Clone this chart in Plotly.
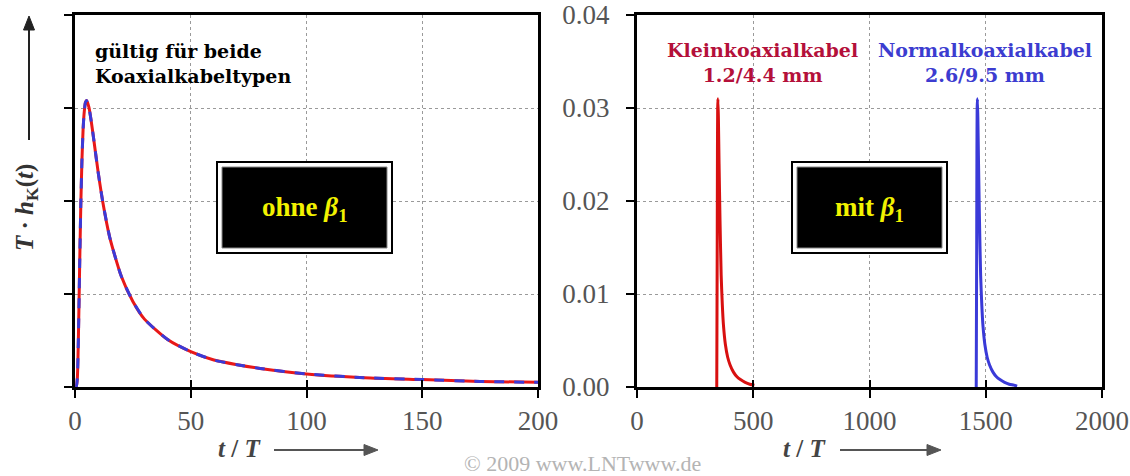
import plotly.graph_objects as go

W, H = 1130, 476

# ---------------- data ----------------
t_left = [0, 0.5, 1, 1.5, 2, 2.5, 3, 3.5, 4, 4.5, 5, 6, 7, 8, 10, 12, 15, 20, 25,
          30, 40, 50, 60, 70, 80, 100, 125, 150, 175, 200]
h_left = [0, 0.0000, 0.0009, 0.0057, 0.0129, 0.0195, 0.0244, 0.0277, 0.0296, 0.0306,
          0.0308, 0.0301, 0.0286, 0.0268, 0.0231, 0.0199, 0.0161, 0.0119, 0.0092,
          0.0073, 0.0051, 0.0038, 0.0029, 0.0024, 0.0020, 0.0014, 0.0010, 0.0008,
          0.0006, 0.0005]

t_klein = [343, 345, 346, 347, 348, 350, 353, 357, 362, 367, 372, 380, 390, 400,
           415, 430, 445, 465, 485, 505]
h_klein = [0, 0.015, 0.025, 0.030, 0.031, 0.029, 0.024, 0.018, 0.012, 0.0088, 0.0066,
           0.0046, 0.0032, 0.0024, 0.0016, 0.0011, 0.0008, 0.0005, 0.0003, 0.0002]

t_normal = [1459, 1461, 1462, 1463, 1464, 1466, 1469, 1473, 1478, 1483, 1488, 1496,
            1506, 1516, 1531, 1546, 1561, 1581, 1601, 1621, 1635]
h_normal = [0, 0.015, 0.025, 0.030, 0.031, 0.029, 0.024, 0.018, 0.012, 0.0088, 0.0066,
            0.0046, 0.0032, 0.0024, 0.0016, 0.0011, 0.0008, 0.0005, 0.0003, 0.0002,
            0.0001]

xticks_left = [0, 50, 100, 150, 200]
xticks_right = [0, 500, 1000, 1500, 2000]
yticks = [0, 0.01, 0.02, 0.03, 0.04]

# ---------------- helpers ----------------
def px(x):
    return x / W

def py(y):
    return 1 - y / H

SERIF = "Liberation Serif"
WIDE = "DejaVu Serif"
TICKC = "#555555"

L0, L1 = 75, 538
R0, R1 = 637, 1102
T0, B0 = 15, 387

fig = go.Figure()

# left panel: red solid under blue dashed
fig.add_trace(go.Scatter(x=t_left, y=h_left, mode="lines",
                         line=dict(color="#e81818", width=3, shape="spline", smoothing=0.6),
                         xaxis="x", yaxis="y", showlegend=False, hoverinfo="skip"))
fig.add_trace(go.Scatter(x=t_left, y=h_left, mode="lines",
                         line=dict(color="#3a3ad8", width=3, dash="10px,10px",
                                   shape="spline", smoothing=0.6),
                         xaxis="x", yaxis="y", showlegend=False, hoverinfo="skip"))
# right panel
fig.add_trace(go.Scatter(x=t_klein, y=h_klein, mode="lines",
                         line=dict(color="#d81010", width=3, shape="spline", smoothing=0.6),
                         xaxis="x2", yaxis="y2", showlegend=False, hoverinfo="skip"))
fig.add_trace(go.Scatter(x=t_normal, y=h_normal, mode="lines",
                         line=dict(color="#3a3ad8", width=3, shape="spline", smoothing=0.6),
                         xaxis="x2", yaxis="y2", showlegend=False, hoverinfo="skip"))
# dummy traces for inner-tick overlay axes
fig.add_trace(go.Scatter(x=[None], y=[None], xaxis="x3", yaxis="y", showlegend=False))
fig.add_trace(go.Scatter(x=[None], y=[None], xaxis="x4", yaxis="y2", showlegend=False))

common_x = dict(showline=True, linecolor="black", linewidth=3, mirror=True,
                ticks="outside", ticklen=8, tickwidth=2, tickcolor="black",
                showgrid=True, gridcolor="#9a9a9a", griddash="dot", gridwidth=1,
                zeroline=False, tickfont=dict(family=SERIF, size=27, color=TICKC),
                fixedrange=True, automargin=False)
common_y = dict(showline=True, linecolor="black", linewidth=3, mirror=True,
                ticks="outside", ticklen=8, tickwidth=2, tickcolor="black",
                showgrid=True, gridcolor="#9a9a9a", griddash="dot", gridwidth=1,
                zeroline=False, range=[0, 0.04], tickvals=yticks, tickformat=".2f",
                domain=[py(B0), py(T0)], automargin=False,
                tickfont=dict(family=SERIF, size=27, color=TICKC), fixedrange=True)

inner_tick = dict(ticks="inside", ticklen=7, tickwidth=2, tickcolor="black",
                  showline=False, showgrid=False, showticklabels=False, zeroline=False,
                  fixedrange=True, automargin=False)

fig.update_layout(
    width=W, height=H, margin=dict(l=0, r=0, t=0, b=0, autoexpand=False),
    paper_bgcolor="white", plot_bgcolor="white",
    xaxis=dict(common_x, domain=[px(L0), px(L1)], range=[0, 200], tickvals=xticks_left,
               anchor="y"),
    yaxis=dict(common_y, anchor="x", showticklabels=False),
    xaxis2=dict(common_x, domain=[px(R0), px(R1)], range=[0, 2000], tickvals=xticks_right,
                anchor="y2"),
    yaxis2=dict(common_y, anchor="x2", showticklabels=True, ticklabelstandoff=11),
    xaxis3=dict(inner_tick, overlaying="x", anchor="y", range=[0, 200], tickvals=xticks_left),
    xaxis4=dict(inner_tick, overlaying="x2", anchor="y2", range=[0, 2000], tickvals=xticks_right),
)

shapes = []
# boxes
for (x0, x1) in [(217, 392), (792, 947)]:
    shapes.append(dict(type="rect", xref="paper", yref="paper",
                       x0=px(x0), x1=px(x1), y0=py(253), y1=py(162),
                       line=dict(color="black", width=2), fillcolor="white"))
    shapes.append(dict(type="rect", xref="paper", yref="paper",
                       x0=px(x0 + 5), x1=px(x1 - 5), y0=py(248), y1=py(167),
                       line=dict(color="#888888", width=1), fillcolor="black"))

# arrows drawn as shapes (line + triangular head)
def arrow_h(x_tail, x_tip, y, color):
    shapes.append(dict(type="line", xref="paper", yref="paper",
                       x0=px(x_tail), x1=px(x_tip - 10), y0=py(y), y1=py(y),
                       line=dict(color=color, width=2)))
    path = "M {},{} L {},{} L {},{} Z".format(px(x_tip), py(y), px(x_tip - 14), py(y - 5.5),
                                              px(x_tip - 14), py(y + 5.5))
    shapes.append(dict(type="path", xref="paper", yref="paper", path=path,
                       fillcolor=color, line=dict(color=color, width=1)))

def arrow_v(x, y_tail, y_tip, color):
    shapes.append(dict(type="line", xref="paper", yref="paper",
                       x0=px(x), x1=px(x), y0=py(y_tail), y1=py(y_tip + 10),
                       line=dict(color=color, width=2)))
    path = "M {},{} L {},{} L {},{} Z".format(px(x), py(y_tip), px(x - 5.5), py(y_tip + 14),
                                              px(x + 5.5), py(y_tip + 14))
    shapes.append(dict(type="path", xref="paper", yref="paper", path=path,
                       fillcolor=color, line=dict(color=color, width=1)))

arrow_v(29, 140, 16, "#222222")
arrow_h(274, 378, 450, "#555555")
arrow_h(840, 941, 450, "#555555")

fig.update_layout(shapes=shapes)

ann = []
def text(x, y, s, size, color, bold=False, xanchor="center", angle=0, family=SERIF,
         align="center"):
    ann.append(dict(x=px(x), y=py(y), xref="paper", yref="paper", text=s, showarrow=False,
                    xanchor=xanchor, yanchor="middle", textangle=angle, align=align,
                    font=dict(family=family, size=size, color=color,
                              weight="bold" if bold else "normal")))

text(93, 64, "gültig für beide<br>Koaxialkabeltypen", 19, "black", bold=True,
     xanchor="left", family=WIDE, align="left")
text(305, 209, "ohne <i>β</i><sub>1</sub>", 27, "#f2f200", bold=True)
text(869, 209, "mit <i>β</i><sub>1</sub>", 27, "#f2f200", bold=True)
text(762, 63, "Kleinkoaxialkabel<br>1.2/4.4 mm", 19, "#b4103a", bold=True, family=WIDE)
text(985, 63, "Normalkoaxialkabel<br>2.6/9.5 mm", 19, "#3c3cd0", bold=True, family=WIDE)
text(26, 208, "<i>T</i> · <i>h</i><sub>K</sub>(<i>t</i>)", 25, "#333333", bold=True, angle=-90)
text(239, 448, "<i>t</i> / <i>T</i>", 25, "#444444", bold=True)
text(804, 448, "<i>t</i> / <i>T</i>", 25, "#444444", bold=True)
text(582, 463, "© 2009 www.LNTwww.de", 22, "#b4b4b4")

fig.update_layout(annotations=ann)

fig.write_html("out.html")
